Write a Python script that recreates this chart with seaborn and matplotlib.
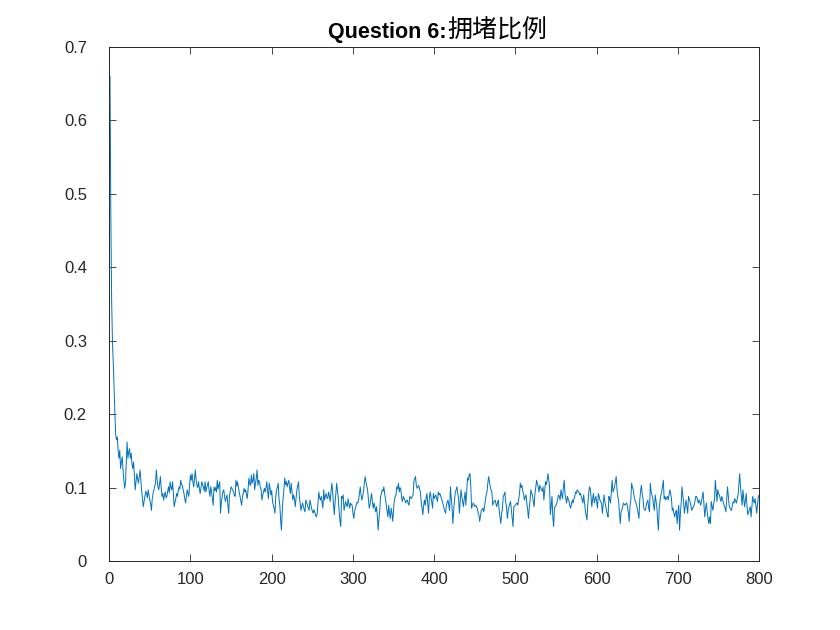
import numpy as np
import pandas as pd
import matplotlib
matplotlib.use("Agg")
import matplotlib.pyplot as plt
import seaborn as sns

# 拥堵比例, 每个时间步一个值 (单位: 千分之一)
congestion_permille = [
    660, 470, 355, 300, 270, 237, 200, 172, 165, 169,
    150, 140, 151, 126, 135, 142, 124, 110, 99, 106,
    135, 162, 140, 148, 153, 140, 147, 132, 126, 135,
    115, 97, 108, 119, 112, 106, 115, 124, 110, 95,
    85, 74, 82, 88, 95, 92, 86, 97, 90, 83,
    78, 69, 85, 92, 97, 102, 106, 124, 110, 101,
    97, 105, 115, 100, 88, 92, 83, 90, 94, 86,
    88, 95, 101, 93, 108, 100, 97, 108, 90, 74,
    80, 85, 92, 88, 95, 101, 98, 110, 104, 103,
    97, 92, 85, 79, 88, 97, 92, 88, 105, 117,
    110, 119, 108, 101, 112, 124, 110, 103, 100, 108,
    98, 92, 100, 108, 104, 101, 95, 108, 94, 100,
    104, 108, 95, 88, 101, 94, 85, 76, 101, 96,
    100, 94, 110, 98, 103, 108, 65, 80, 88, 95,
    97, 88, 81, 86, 90, 78, 65, 88, 95, 101,
    99, 97, 94, 90, 88, 110, 102, 108, 100, 94,
    88, 82, 76, 88, 92, 99, 94, 97, 90, 85,
    100, 113, 105, 103, 117, 106, 110, 119, 97, 105,
    113, 124, 103, 110, 108, 100, 97, 83, 90, 94,
    99, 94, 100, 108, 95, 85, 106, 98, 90, 96,
    81, 76, 72, 65, 88, 97, 100, 106, 85, 76,
    55, 42, 69, 85, 97, 113, 104, 108, 101, 106,
    110, 100, 92, 106, 95, 83, 90, 85, 74, 86,
    97, 102, 108, 88, 78, 69, 75, 79, 74, 70,
    67, 83, 80, 76, 72, 69, 83, 78, 72, 68,
    65, 70, 67, 62, 60, 65, 80, 94, 86, 83,
    88, 80, 72, 97, 83, 88, 92, 86, 85, 94,
    88, 81, 95, 106, 94, 78, 63, 80, 92, 106,
    95, 85, 67, 55, 47, 88, 85, 90, 69, 75,
    81, 76, 74, 85, 78, 72, 79, 77, 76, 65,
    58, 67, 72, 76, 80, 79, 83, 92, 101, 90,
    83, 88, 95, 106, 115, 108, 102, 97, 85, 72,
    76, 85, 92, 80, 72, 79, 73, 67, 74, 62,
    42, 58, 69, 88, 92, 97, 95, 101, 92, 85,
    76, 68, 60, 76, 65, 58, 72, 65, 54, 70,
    83, 88, 90, 101, 98, 106, 94, 100, 97, 85,
    81, 88, 85, 83, 79, 82, 83, 78, 76, 88,
    86, 85, 88, 90, 108, 112, 115, 103, 99, 101,
    103, 98, 94, 81, 72, 63, 75, 83, 76, 85,
    92, 78, 65, 85, 94, 88, 80, 72, 92, 85,
    88, 90, 85, 81, 94, 90, 92, 88, 85, 81,
    77, 72, 68, 65, 76, 80, 83, 75, 69, 101,
    85, 72, 51, 70, 83, 94, 97, 101, 92, 85,
    65, 80, 97, 88, 81, 74, 85, 94, 76, 95,
    113, 110, 117, 119, 103, 72, 76, 79, 77, 74,
    76, 74, 72, 66, 63, 54, 62, 69, 70, 72,
    67, 75, 83, 90, 94, 106, 115, 108, 101, 97,
    94, 76, 80, 81, 83, 78, 74, 80, 83, 69,
    60, 51, 65, 72, 88, 90, 94, 80, 74, 58,
    68, 74, 78, 81, 69, 58, 47, 74, 75, 76,
    78, 79, 76, 84, 92, 106, 100, 103, 95, 92,
    83, 87, 90, 79, 70, 58, 72, 83, 97, 92,
    90, 80, 74, 92, 100, 110, 105, 101, 94, 103,
    100, 97, 95, 101, 83, 95, 108, 104, 110, 119,
    110, 101, 63, 75, 88, 60, 47, 72, 74, 76,
    79, 85, 90, 88, 83, 97, 90, 85, 100, 110,
    92, 85, 79, 88, 84, 81, 75, 72, 78, 83,
    79, 85, 88, 94, 92, 97, 95, 94, 90, 92,
    88, 84, 79, 90, 80, 69, 62, 56, 76, 90,
    101, 99, 88, 74, 85, 92, 79, 84, 88, 80,
    72, 92, 88, 83, 80, 79, 65, 78, 90, 81,
    76, 69, 64, 60, 88, 84, 79, 95, 110, 94,
    97, 101, 108, 115, 97, 88, 81, 65, 51, 67,
    70, 74, 79, 77, 76, 78, 79, 74, 65, 54,
    75, 83, 106, 100, 97, 88, 83, 81, 76, 72,
    65, 58, 83, 95, 103, 92, 85, 72, 70, 69,
    76, 80, 83, 72, 67, 106, 94, 90, 85, 76,
    69, 90, 82, 74, 55, 42, 74, 82, 90, 94,
    102, 110, 85, 88, 83, 86, 88, 83, 90, 97,
    92, 85, 69, 72, 65, 60, 66, 69, 51, 65,
    76, 42, 65, 79, 101, 90, 79, 65, 75, 83,
    74, 65, 88, 84, 81, 75, 69, 72, 74, 76,
    82, 88, 88, 84, 79, 83, 80, 76, 82, 88,
    94, 78, 60, 72, 79, 67, 58, 51, 60, 51,
    81, 75, 69, 78, 83, 110, 95, 81, 97, 92,
    90, 85, 81, 88, 84, 79, 75, 72, 67, 85,
    101, 88, 76, 72, 70, 69, 76, 81, 79, 85,
    82, 79, 85, 90, 105, 119, 101, 88, 76, 97,
    85, 74, 82, 92, 75, 63, 67, 70, 74, 60,
    75, 88, 82, 79, 85, 75, 65, 78, 88, 90,
]
steps = np.arange(1, len(congestion_permille) + 1)

x_ticks = [0, 100, 200, 300, 400, 500, 600, 700, 800]
y_ticks = [0, 0.1, 0.2, 0.3, 0.4, 0.5, 0.6, 0.7]
y_tick_labels = ['0', '0.1', '0.2', '0.3', '0.4', '0.5', '0.6', '0.7']

df = pd.DataFrame({'step': steps,
                   'ratio': np.array(congestion_permille) / 1000.0})

sns.set_theme(style='white')
plt.rcParams['font.family'] = ['Liberation Sans', 'Noto Sans CJK SC']
plt.rcParams['axes.unicode_minus'] = False

axis_color = '#262626'
fig = plt.figure(figsize=(8.4, 6.3), dpi=100)
ax = fig.add_axes([0.13, 0.1095, 0.7738, 0.8159])

sns.lineplot(data=df, x='step', y='ratio', ax=ax,
             color='#0072BD', linewidth=0.7)

ax.set_xlim(0, 800)
ax.set_ylim(0, 0.7)
ax.set_xticks(x_ticks)
ax.set_yticks(y_ticks)
ax.set_yticklabels(y_tick_labels)
ax.set_xlabel('')
ax.set_ylabel('')

# MATLAB 风格: 刻度朝内, 四边框
ax.tick_params(axis='both', direction='in', length=5, width=0.6,
               colors=axis_color, labelsize=12,
               top=True, right=True, bottom=True, left=True)
ax.tick_params(axis='y', pad=16)
ax.tick_params(axis='x', pad=8)
for sp in ax.spines.values():
    sp.set_visible(True)
    sp.set_color(axis_color)
    sp.set_linewidth(0.7)

# 标题: 英文部分加粗, 中文部分常规
ax.text(0.519, 1.0175, 'Question 6:', transform=ax.transAxes,
        ha='right', va='baseline', fontsize=15.5, fontweight='bold',
        color='black')
ax.text(0.5205, 1.0175, '拥堵比例', transform=ax.transAxes,
        ha='left', va='baseline', fontsize=18,
        family=['Noto Sans CJK SC', 'DejaVu Sans'], color='black')

fig.savefig('out.png', dpi=100)
plt.close(fig)
